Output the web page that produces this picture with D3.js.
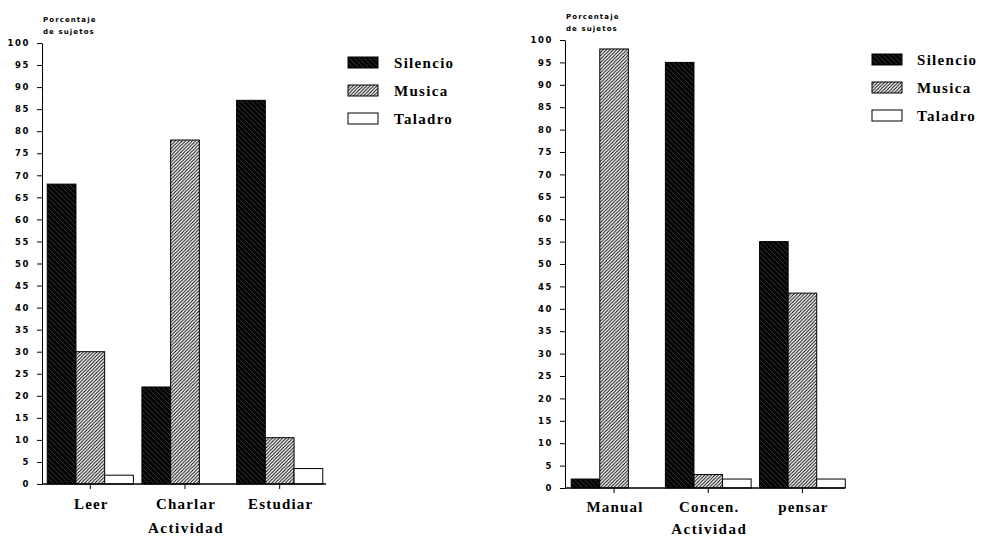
<!DOCTYPE html>
<html>
<head>
<meta charset="utf-8">
<script src="https://cdn.jsdelivr.net/npm/d3@7/dist/d3.min.js"></script>
<style>
  html, body { margin: 0; padding: 0; background: #fff; }
  svg { display: block; }
  .tick-lbl { font-family: "DejaVu Sans", sans-serif; font-weight: bold; font-size: 8.5px; letter-spacing: 1.6px; fill: #000; }
  .ylab { font-family: "DejaVu Sans", sans-serif; font-weight: bold; font-size: 7px; letter-spacing: 1.1px; fill: #000; }
  .cat { font-family: "Liberation Serif", serif; font-weight: bold; font-size: 15px; letter-spacing: 1.2px; fill: #000; }
  .xtitle { font-family: "Liberation Serif", serif; font-weight: bold; font-size: 15px; letter-spacing: 1.5px; fill: #000; }
  .leg { font-family: "Liberation Serif", serif; font-weight: bold; font-size: 15px; letter-spacing: 1.3px; fill: #000; }
</style>
</head>
<body>
<script>
// ---- data ----
const seriesNames = ["Silencio", "Musica", "Taladro"];
const leftCategories = ["Leer", "Charlar", "Estudiar"];
const leftSilencio = [68, 22, 87];
const leftMusica = [30, 78, 10.5];
const leftTaladro = [2, 0, 3.5];
const rightCategories = ["Manual", "Concen.", "pensar"];
const rightSilencio = [2, 95, 55];
const rightMusica = [98, 3, 43.5];
const rightTaladro = [0, 2, 2];
const yTickValues = [0, 5, 10, 15, 20, 25, 30, 35, 40, 45, 50, 55, 60, 65, 70, 75, 80, 85, 90, 95, 100];
const yTitleLines = ["Porcentaje", "de sujetos"];
const xTitle = "Actividad";

const W = 982, H = 539;
const svg = d3.select("body").append("svg").attr("width", W).attr("height", H);

// patterns
const defs = svg.append("defs");
const pSil = defs.append("pattern").attr("id", "pSil").attr("patternUnits", "userSpaceOnUse")
  .attr("width", 5).attr("height", 5);
pSil.append("rect").attr("width", 5).attr("height", 5).attr("fill", "#050505");
pSil.append("path").attr("d", "M-1,-1 L6,6 M-1,4 L1,6 M4,-1 L6,1").attr("stroke", "#444").attr("stroke-width", 0.7);
const pMus = defs.append("pattern").attr("id", "pMus").attr("patternUnits", "userSpaceOnUse")
  .attr("width", 3.4).attr("height", 3.4);
pMus.append("rect").attr("width", 3.4).attr("height", 3.4).attr("fill", "#fff");
pMus.append("path").attr("d", "M-0.85,0.85 L0.85,-0.85 M0,3.4 L3.4,0 M2.55,4.25 L4.25,2.55").attr("stroke", "#000").attr("stroke-width", 1);
const fills = { "Silencio": "url(#pSil)", "Musica": "url(#pMus)", "Taladro": "#fff" };

function drawChart(cfg) {
  const g = svg.append("g");
  const y = d3.scaleLinear().domain([0, 100]).range([cfg.y0, cfg.y100]);
  const x = d3.scaleBand().domain(cfg.categories).range(cfg.xRange)
    .paddingInner(0.09).paddingOuter(0.05);
  const xs = d3.scaleBand().domain(seriesNames).range([0, x.bandwidth()]);

  const rows = cfg.categories.map((c, i) => ({
    cat: c,
    vals: [cfg.sil[i], cfg.mus[i], cfg.tal[i]]
  }));

  // bars
  rows.forEach(r => {
    g.selectAll(null).data(seriesNames.map((s, j) => ({ s, v: r.vals[j] }))).enter()
      .append("rect")
      .attr("x", d => x(r.cat) + xs(d.s))
      .attr("y", d => y(d.v))
      .attr("width", xs.bandwidth())
      .attr("height", d => y(0) - y(d.v))
      .attr("fill", d => fills[d.s])
      .attr("stroke", "#000").attr("stroke-width", 1);
  });

  // y axis
  const ya = g.append("g").attr("transform", `translate(${cfg.axisX},0)`)
    .call(d3.axisLeft(y).tickValues(yTickValues).tickSize(5).tickSizeOuter(0).tickPadding(7));
  ya.select(".domain").attr("stroke", "#000").attr("stroke-width", 1);
  ya.selectAll(".tick line").attr("stroke", "#000").attr("stroke-width", 1);
  ya.selectAll(".tick text").attr("class", "tick-lbl").attr("font-family", null).attr("font-size", null);

  // x axis
  const xa = g.append("g").attr("transform", `translate(0,${cfg.y0})`)
    .call(d3.axisBottom(x).tickSize(5).tickSizeOuter(0).tickFormat(""));
  xa.select(".domain").remove();
  xa.selectAll(".tick line").attr("stroke", "#000").attr("stroke-width", 1);
  g.append("line").attr("x1", cfg.axisX).attr("x2", cfg.xEnd)
    .attr("y1", y(0)).attr("y2", y(0)).attr("stroke", "#000").attr("stroke-width", 1.5);

  // category labels
  g.selectAll(null).data(cfg.categories).enter().append("text")
    .attr("class", "cat")
    .attr("x", d => x(d) + x.bandwidth() / 2 + 1)
    .attr("y", cfg.catY)
    .attr("text-anchor", "middle")
    .text(d => d);

  g.append("text").attr("class", "xtitle")
    .attr("x", (x.range()[0] + x.range()[1]) / 2 + 1)
    .attr("y", cfg.titleY).attr("text-anchor", "middle").text(xTitle);

  // y label
  yTitleLines.forEach((t, i) => {
    g.append("text").attr("class", "ylab").attr("x", cfg.axisX + 1)
      .attr("y", cfg.ylabY + i * 12).text(t);
  });

  // legend
  const lg = g.append("g").attr("transform", `translate(${cfg.legX},${cfg.legY})`);
  seriesNames.forEach((s, i) => {
    lg.append("rect").attr("x", 0).attr("y", i * cfg.legStep).attr("width", 30).attr("height", 11)
      .attr("fill", fills[s]).attr("stroke", "#000").attr("stroke-width", 1);
    lg.append("text").attr("class", "leg").attr("x", cfg.legTextDx).attr("y", i * cfg.legStep + 11)
      .text(s);
  });
}

drawChart({
  categories: leftCategories, sil: leftSilencio, mus: leftMusica, tal: leftTaladro,
  y0: 484, y100: 43, axisX: 42, xRange: [42.5, 327.5], xEnd: 326,
  catY: 509, titleY: 533, ylabY: 22,
  legX: 348, legY: 57, legStep: 28, legTextDx: 46
});

drawChart({
  categories: rightCategories, sil: rightSilencio, mus: rightMusica, tal: rightTaladro,
  y0: 488, y100: 40, axisX: 565, xRange: [566.5, 850], xEnd: 845,
  catY: 512, titleY: 534, ylabY: 19,
  legX: 872, legY: 54, legStep: 28, legTextDx: 45
});
</script>
</body>
</html>
